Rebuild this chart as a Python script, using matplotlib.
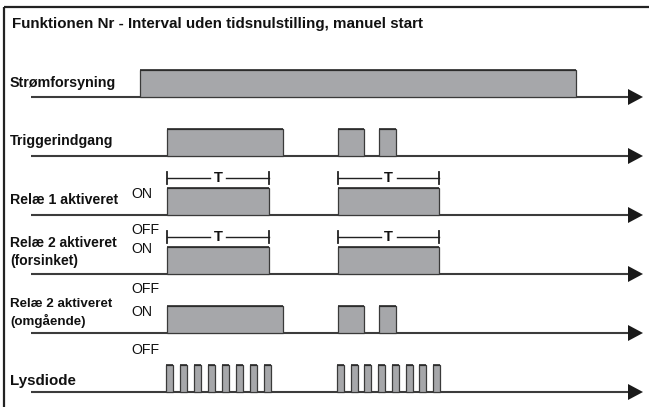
import matplotlib
matplotlib.use("Agg")
import matplotlib.pyplot as plt
from matplotlib.patches import Rectangle, Polygon

plt.rcParams['font.family'] = ['Liberation Sans', 'DejaVu Sans']

title = "Funktionen Nr - Interval uden tidsnulstilling, manuel start"

row_labels = [
    "Strømforsyning",
    "Triggerindgang",
    "Relæ 1 aktiveret",
    "Relæ 2 aktiveret\n(forsinket)",
    "Relæ 2 aktiveret\n(omgående)",
    "Lysdiode",
]

# pulse intervals (start, end) on the time axis for each row
power = [(140, 576)]
trigger = [(167, 283), (338, 364), (379, 396)]
relay1 = [(167, 269), (338, 439)]
relay2_delayed = [(167, 269), (338, 439)]
relay2_instant = [(167, 283), (338, 364), (379, 396)]
led_starts = [166, 180, 194, 208, 222, 236, 250, 264,
              337, 351, 364, 378, 392, 406, 419, 433]
led_width = 7
led = [(s, s + led_width) for s in led_starts]

rows = [power, trigger, relay1, relay2_delayed, relay2_instant, led]

# T interval brackets: (row index, start, end)
t_brackets = [(2, 167, 269), (2, 338, 439), (3, 167, 269), (3, 338, 439)]

W, H = 649, 407
fig = plt.figure(figsize=(W / 100, H / 100), dpi=100)
ax = fig.add_axes([0, 0, 1, 1])
ax.set_xlim(0, W)
ax.set_ylim(H, 0)
ax.axis('off')

fill = '#a6a7aa'
edge = '#3a3a3a'
line_c = '#3c3c3c'

# frame
ax.plot([4, W], [7, 7], color='#222222', lw=1.6, solid_capstyle='butt')
ax.plot([4, 4], [7, H], color='#222222', lw=1.6, solid_capstyle='butt')

ax.text(12, 24, title, fontsize=10.9, fontweight='bold', va='center', ha='left', color='#111111')

base0, step, pulse_h = 97, 59, 27
x_line0, x_arrow0, x_tip = 31, 628, 643

for i, (label, pulses) in enumerate(zip(row_labels, rows)):
    yb = base0 + step * i
    ax.plot([x_line0, x_arrow0 + 2], [yb, yb], color=line_c, lw=1.5, solid_capstyle='butt', zorder=2)
    ax.add_patch(Polygon([[x_arrow0, yb - 8], [x_tip, yb], [x_arrow0, yb + 8]],
                         closed=True, facecolor='#1a1a1a', edgecolor='none', zorder=3))
    for (s, e) in pulses:
        ax.add_patch(Rectangle((s, yb - pulse_h), e - s, pulse_h, facecolor=fill,
                               edgecolor=edge, lw=0.9, zorder=3))
        ax.plot([s, e], [yb - pulse_h, yb - pulse_h], color='#2a2a2a', lw=1.2, zorder=4,
                solid_capstyle='butt')

# row labels
label_y = [83, 141, 200, 252, 313, 381]
label_fs = [10.3, 10.2, 10.2, 10.0, 9.6, 10.9]
for lab, ly, fs in zip(row_labels, label_y, label_fs):
    ax.text(10, ly, lab, fontsize=fs, fontweight='bold', va='center', ha='left',
            color='#111111', linespacing=1.3)

# ON / OFF labels
onoff = [("ON", 194), ("OFF", 230), ("ON", 249), ("OFF", 289), ("ON", 312), ("OFF", 350)]
for txt, ty in onoff:
    ax.text(131, ty, txt, fontsize=10.2, va='center', ha='left', color='#111111')

# T brackets
for (ri, s, e) in t_brackets:
    yb = base0 + step * ri
    yt = yb - 37
    mid = (s + e) / 2
    ax.plot([s, mid - 8], [yt, yt], color='#222222', lw=1.0)
    ax.plot([mid + 8, e], [yt, yt], color='#222222', lw=1.0)
    ax.plot([s, s], [yt - 6, yt + 6], color='#222222', lw=1.3)
    ax.plot([e, e], [yt - 6, yt + 6], color='#222222', lw=1.3)
    ax.text(mid, yt, "T", fontsize=10.5, fontweight='bold', va='center', ha='center', color='#111111')

fig.savefig("out.png", dpi=100)
